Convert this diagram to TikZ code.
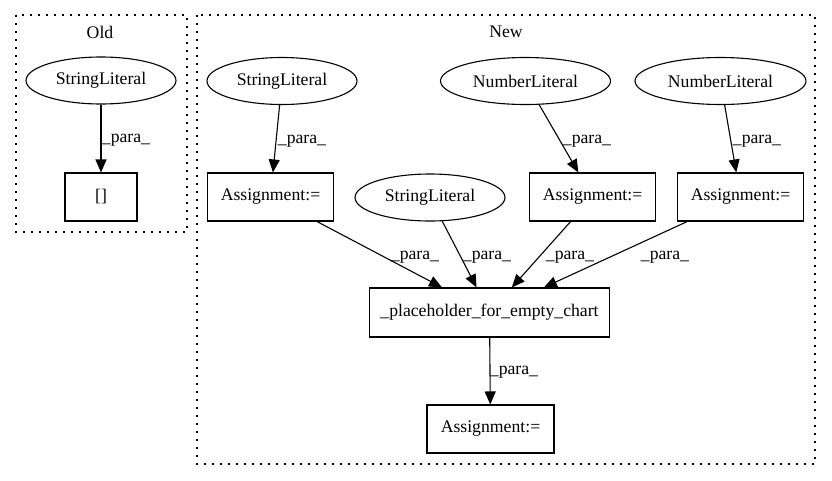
\documentclass[tikz,border=0pt]{standalone}
\usepackage{fontspec}
\setmainfont{Liberation Serif}
\usetikzlibrary{arrows.meta,shapes.geometric}
\begin{document}
\begin{tikzpicture}[x=1pt,y=-1pt,
  every node/.style={font=\fontsize{17.7}{21}\selectfont},
  lit/.style={draw, ellipse, line width=1.1pt, inner sep=0pt, minimum height=47pt},
  box/.style={draw, rectangle, line width=1.1pt, inner sep=0pt, minimum height=48pt},
  cluster/.style={draw, line width=1.1pt, dash pattern=on 1.6pt off 6.4pt},
  edge/.style={line width=1.1pt, -{Triangle[length=13pt,width=11pt]}},
  lbl/.style={inner sep=0pt}]
\useasboundingbox (0,0) rectangle (832,480);
% clusters
\draw[cluster] (16,15) rectangle (187,232);
\draw[cluster] (197,15) rectangle (815,464);
\node[lbl] (oldlbl) at (100,32) {Old};
\node[lbl] (newlbl) at (506,32) {New};
% Old
\node[lit, minimum width=150pt] (osl) at (101,80.5) {StringLiteral};
\node[box, minimum width=72pt] (obr) at (101,197) {[]};
\draw[edge] (osl) -- (obr);
\node[lbl] (ol) at (126,140) {\_para\_};
% New top row
\node[lit, minimum width=150pt] (sl1) at (282,81) {StringLiteral};
\node[lit, minimum width=170pt] (nl1) at (525.5,81) {NumberLiteral};
\node[lit, minimum width=171pt] (nl2) at (720.5,81) {NumberLiteral};
% second row
\node[box, minimum width=126pt] (a1) at (270.5,197) {Assignment:=};
\node[lit, minimum width=150pt] (sl2) at (430,197.5) {StringLiteral};
\node[box, minimum width=126pt] (a2) at (592.5,197) {Assignment:=};
\node[box, minimum width=126pt] (a3) at (740.5,197) {Assignment:=};
% third, fourth
\node[box, minimum width=240pt, minimum height=49pt] (ph) at (489.5,312.5) {\_placeholder\_for\_empty\_chart};
\node[box, minimum width=127pt] (a4) at (490.5,429) {Assignment:=};
% edges
\draw[edge] (sl1) -- (a1);
\draw[edge] (nl1) -- (a2);
\draw[edge] (nl2) -- (a3);
\draw[edge] (a1) -- (ph);
\draw[edge] (sl2) -- (ph);
\draw[edge] (a2) -- (ph);
\draw[edge] (a3) -- (ph);
\draw[edge] (ph) -- (a4);
% labels
\node[lbl] (l1) at (302,141) {\_para\_};
\node[lbl] (l2) at (587,141) {\_para\_};
\node[lbl] (l3) at (757,141) {\_para\_};
\node[lbl] (l4) at (415,257) {\_para\_};
\node[lbl] (l5) at (487,257) {\_para\_};
\node[lbl] (l6) at (570,257) {\_para\_};
\node[lbl] (l7) at (665,257) {\_para\_};
\node[lbl] (l8) at (514,372) {\_para\_};
\end{tikzpicture}
\end{document}
